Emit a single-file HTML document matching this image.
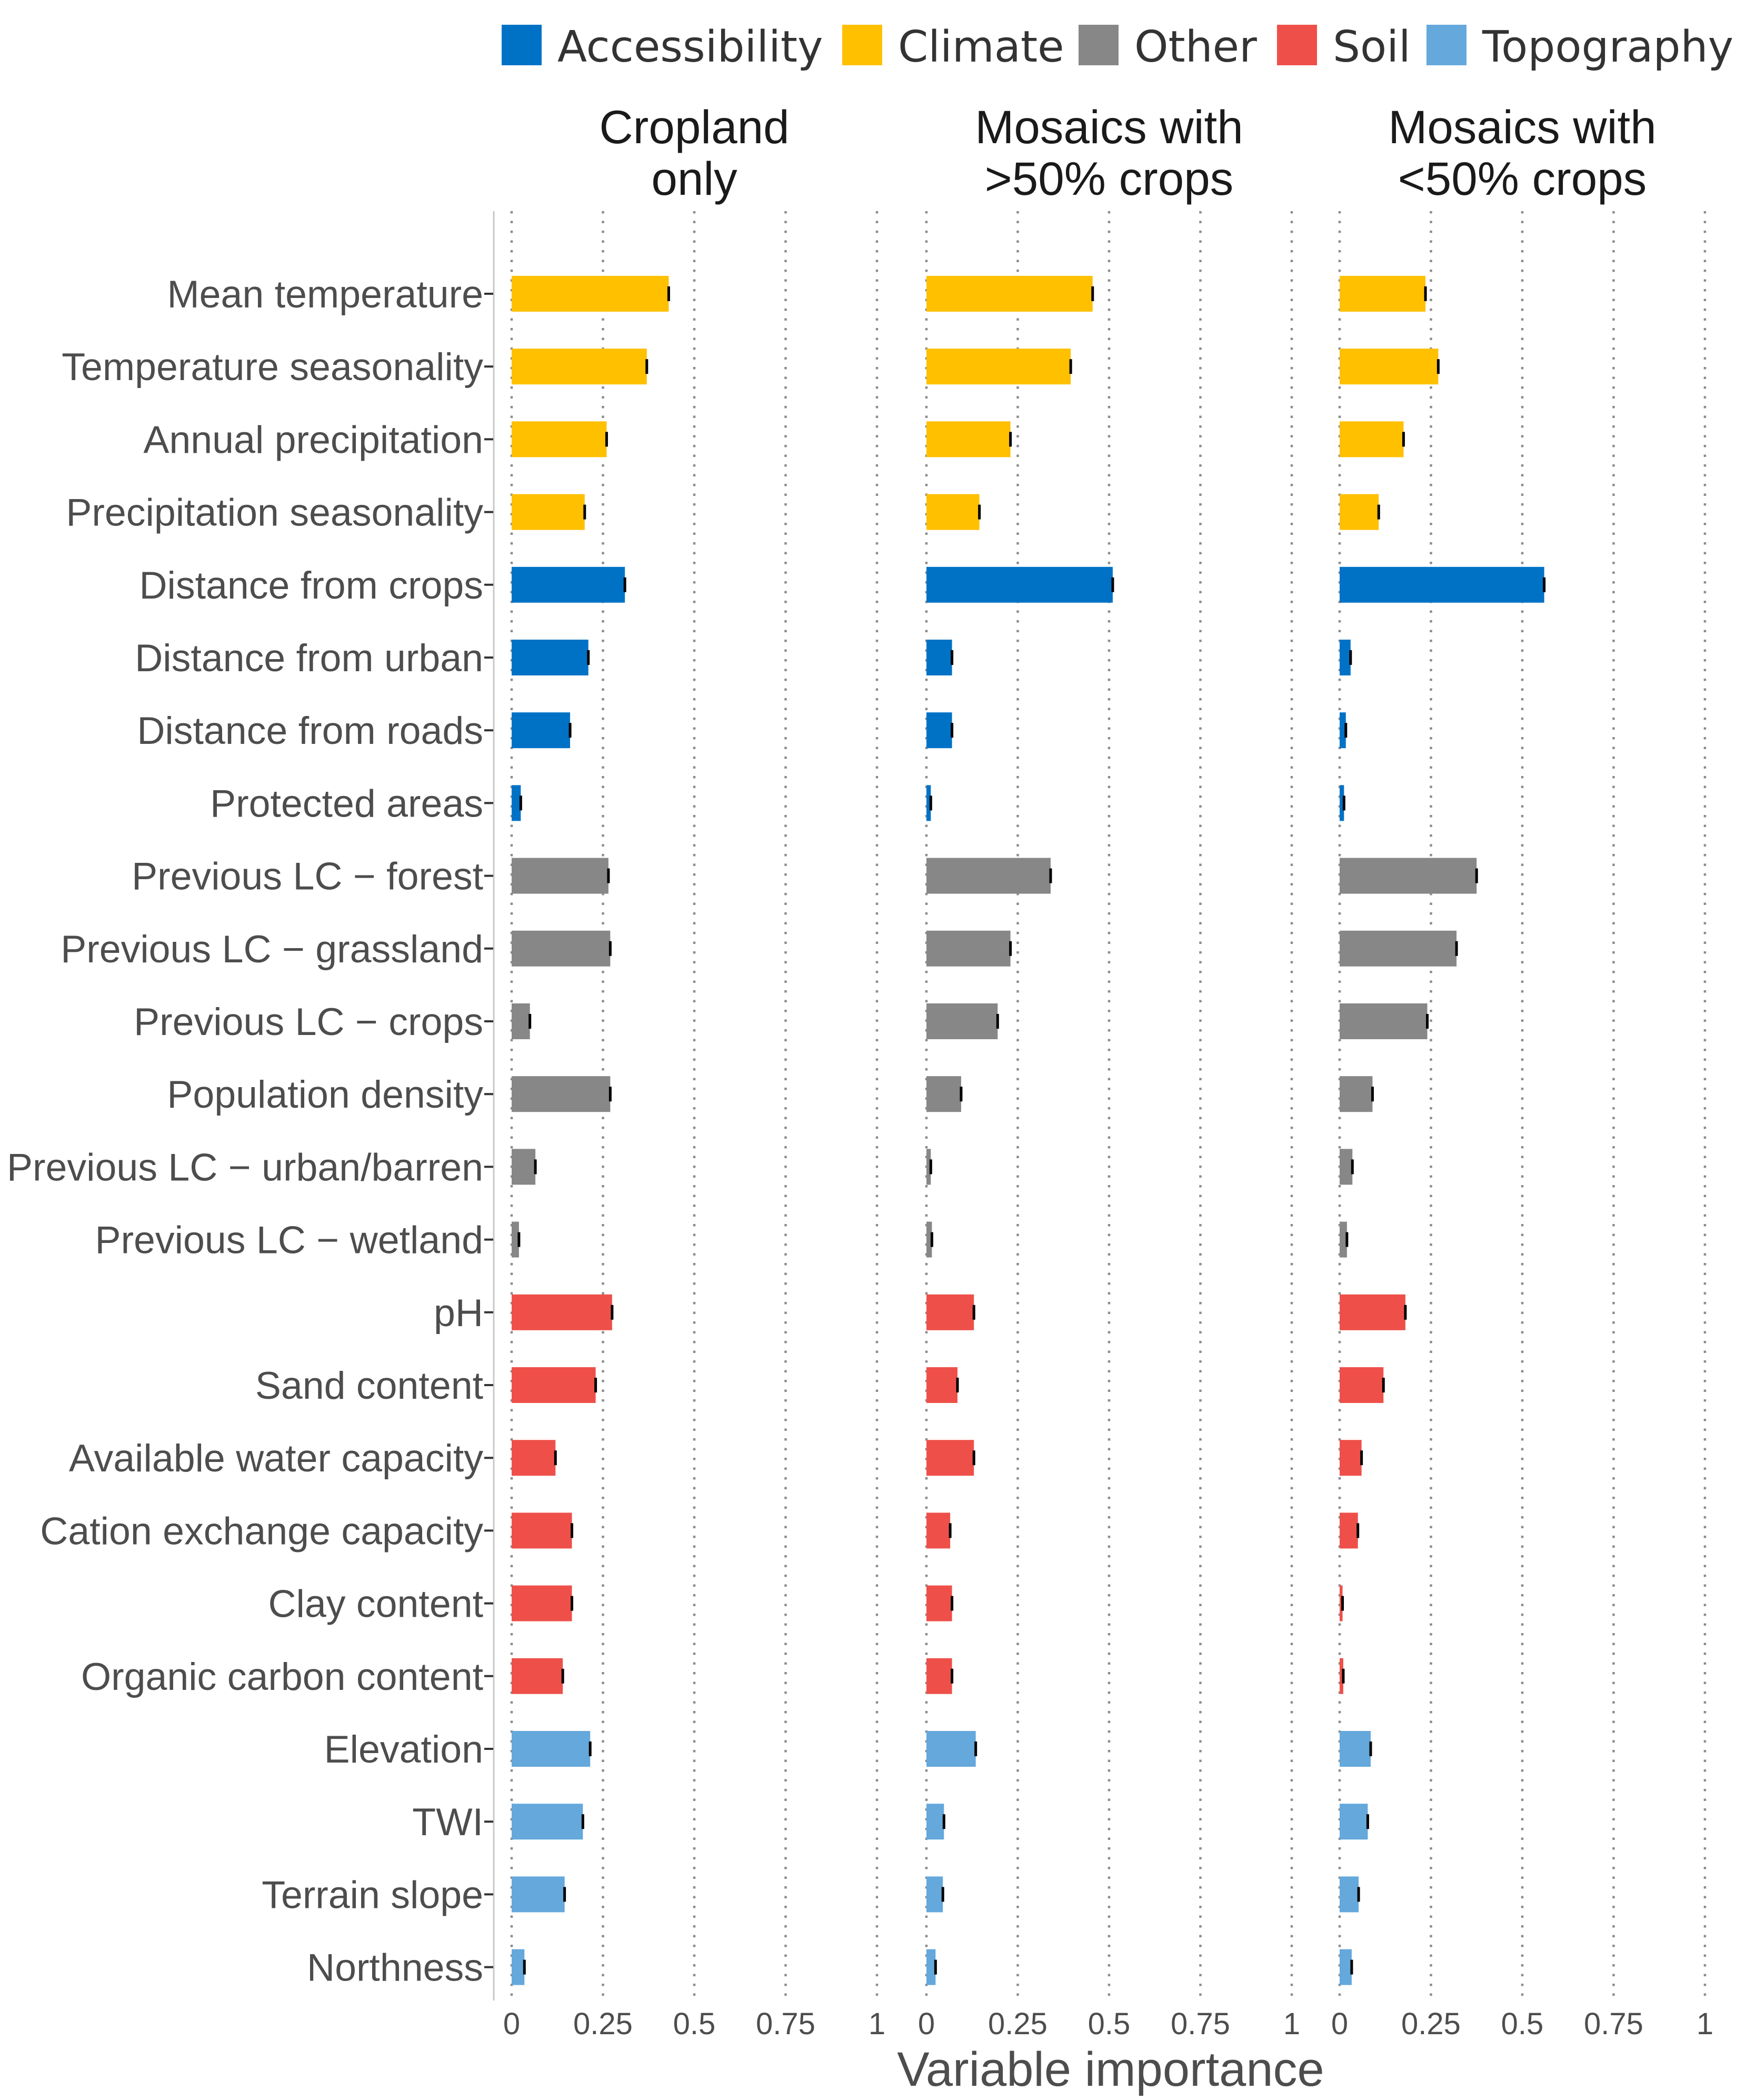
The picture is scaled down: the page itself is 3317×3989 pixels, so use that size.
<!DOCTYPE html>
<html><head><meta charset="utf-8"><style>
html,body{margin:0;padding:0;background:#fff;}
svg{display:block;}
</style></head><body>
<svg id="chart" width="3317" height="3989" xmlns="http://www.w3.org/2000/svg">
<rect x="0" y="0" width="3317" height="3989" fill="#fff"/>
</svg>
<script>
const variables = ["Mean temperature","Temperature seasonality","Annual precipitation","Precipitation seasonality","Distance from crops","Distance from urban","Distance from roads","Protected areas","Previous LC \u2212 forest","Previous LC \u2212 grassland","Previous LC \u2212 crops","Population density","Previous LC \u2212 urban/barren","Previous LC \u2212 wetland","pH","Sand content","Available water capacity","Cation exchange capacity","Clay content","Organic carbon content","Elevation","TWI","Terrain slope","Northness"];
const groups = ["Climate","Climate","Climate","Climate","Accessibility","Accessibility","Accessibility","Accessibility","Other","Other","Other","Other","Other","Other","Soil","Soil","Soil","Soil","Soil","Soil","Topography","Topography","Topography","Topography"];
const panelTitles = [["Cropland","only"],["Mosaics with",">50% crops"],["Mosaics with","<50% crops"]];
const croplandOnly = [0.43,0.37,0.26,0.20,0.31,0.21,0.16,0.025,0.265,0.27,0.05,0.27,0.065,0.02,0.275,0.23,0.12,0.165,0.165,0.14,0.215,0.195,0.145,0.035];
const mosaicsAbove50 = [0.455,0.395,0.23,0.145,0.51,0.07,0.07,0.012,0.34,0.23,0.195,0.095,0.012,0.015,0.13,0.085,0.13,0.065,0.07,0.07,0.135,0.048,0.045,0.025];
const mosaicsBelow50 = [0.235,0.27,0.175,0.107,0.56,0.03,0.017,0.012,0.375,0.32,0.24,0.09,0.035,0.02,0.18,0.12,0.06,0.05,0.008,0.01,0.085,0.077,0.052,0.033];
const xTicks = [0,0.25,0.5,0.75,1];
const xTickLabels = ["0","0.25","0.5","0.75","1"];
const legendLabels = ["Accessibility","Climate","Other","Soil","Topography"];

const colors = {Accessibility:"#0072C6",Climate:"#FFC000",Other:"#878787",Soil:"#EE5049",Topography:"#64A8DC"};
const series = [croplandOnly, mosaicsAbove50, mosaicsBelow50];
const svg = document.getElementById('chart');
const NS = "http://www.w3.org/2000/svg";
function mk(tag, attrs, parent){ const e=document.createElementNS(NS,tag); for(const k in attrs) e.setAttribute(k,attrs[k]); (parent||svg).appendChild(e); return e; }

const zeros = [972, 1760, 2545];
const unit = 694;
const panelTop = 401, panelBottom = 3800;
const row0 = 558, rowStep = 138.2, barH = 68;
function xScale(p, v){ return zeros[p] + v*unit; }
function yScale(i){ return row0 + i*rowStep; }

const legendX = [953,1600,2049,2426,2710];
legendLabels.forEach((lab,i)=>{
  const g = mk('g',{});
  
  
  const r = mk('rect',{x:legendX[i],y:47,width:76,height:77,fill:colors[lab]},g);
  
  
  const t = mk('text',{x:legendX[i]+106,y:117,'font-family':'DejaVu Sans, sans-serif','font-size':82,fill:'#333'},g);
  
  
  t.textContent = lab;
});

const yl = mk('line',{x1:938,y1:panelTop,x2:938,y2:panelBottom,stroke:'#c8c8c8','stroke-width':3});



variables.forEach((v,i)=>{
  const y = yScale(i);
  const t = mk('text',{x:918,y:y+26,'text-anchor':'end','font-family':'Liberation Sans, sans-serif','font-size':73.5,fill:'#4d4d4d'});
  
  
  t.textContent = v;
  const tk = mk('line',{x1:920,y1:y,x2:937,y2:y,stroke:'#333','stroke-width':4});
  
  
});

for(let p=0;p<3;p++){
  const pg = mk('g',{});
  
  
  const cx = zeros[p] + 0.5*unit;
  panelTitles[p].forEach((line,li)=>{
    const t = mk('text',{x:cx,y:272+li*98,'text-anchor':'middle','font-family':'Liberation Sans, sans-serif','font-size':89,fill:'#1a1a1a'},pg);
    
    
    t.textContent = line;
  });
  xTicks.forEach((tv,ti)=>{
    const x = xScale(p,tv);
    const gl = mk('line',{x1:x,y1:panelTop,x2:x,y2:panelBottom,stroke:'#8c8c8c','stroke-width':4.5,'stroke-dasharray':'4.5 14'},pg);
    
    
    const tl = mk('text',{x:x,y:3864,'text-anchor':'middle','font-family':'Liberation Sans, sans-serif','font-size':58,fill:'#4d4d4d'},pg);
    
    
    tl.textContent = xTickLabels[ti];
  });
  series[p].forEach((val,i)=>{
    const y = yScale(i);
    const x0 = xScale(p,0), x1 = xScale(p,val);
    const b = mk('rect',{x:x0,y:y-barH/2,width:Math.max(1,x1-x0),height:barH,fill:colors[groups[i]]},pg);
    
    
    const e = mk('line',{x1:x1,y1:y-14,x2:x1,y2:y+14,stroke:'#000','stroke-width':5},pg);
    
    
  });
}

const xt = mk('text',{x:2110,y:3962,'text-anchor':'middle','font-family':'Liberation Sans, sans-serif','font-size':92,fill:'#4d4d4d'});


xt.textContent = 'Variable importance';
</script>
</body></html>
